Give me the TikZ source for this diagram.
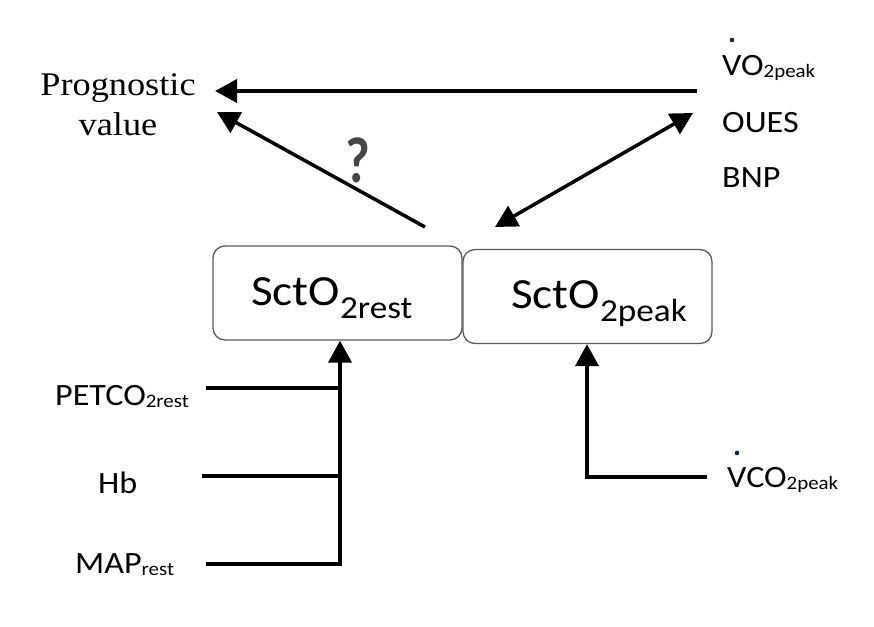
\documentclass[tikz,border=0pt]{standalone}
\usepackage{fontspec}
\setmainfont{Carlito}[FakeStretch=1.1]
\newfontfamily\tnr{Liberation Serif}[FakeStretch=1.1]
\usetikzlibrary{arrows.meta}
\definecolor{boxgray}{RGB}{90,90,90}
\definecolor{dotblue}{RGB}{20,35,70}
\definecolor{qgray}{RGB}{70,70,70}
\newcommand{\lsub}[1]{\raisebox{-2pt}{\fontsize{19}{19}\selectfont #1}}
\newcommand{\bsub}[1]{\raisebox{-13pt}{\fontsize{32}{32}\selectfont #1}}
\begin{document}
\begin{tikzpicture}[x=1pt,y=-1pt,
  box/.style={draw=boxgray, line width=1.3pt, rounded corners=12pt,
    minimum width=249pt, minimum height=94pt, inner sep=0pt},
  lbl/.style={anchor=base west, inner sep=0pt, font=\fontsize{31}{37}\selectfont},
  boxlbl/.style={anchor=base west, inner sep=0pt, font=\fontsize{43}{50}\selectfont},
  conn/.style={line width=4pt, line join=miter},
  thinconn/.style={line width=3.5pt},
  tip/.style={-{Triangle[length=22pt,width=23pt]}},
  dtip/.style={{Triangle[length=22pt,width=23pt]}-{Triangle[length=22pt,width=23pt]}}]
\useasboundingbox (0,0) rectangle (874,626);

% boxes
\node[box] (rest) at (337.5,293) {};
\node[box] (peak) at (587.5,296.5) {};
\node[boxlbl] (restlbl) at (251,305) {SctO\bsub{2rest}};
\node[boxlbl] (peaklbl) at (511,308) {SctO\bsub{2peak}};

% labels
\node[anchor=base, inner sep=0pt, align=center,
  font=\tnr\fontsize{33}{40}\selectfont] (prog) at (118,135) {Prognostic\\value};
\node[lbl] (vo) at (722,75) {VO\lsub{2peak}};
\fill[dotblue] (732,40) circle (2.3pt);
\node[lbl] (oues) at (722,132) {OUES};
\node[lbl] (bnp) at (722,187) {BNP};
\node[lbl] (petco) at (55,405) {PETCO\lsub{2rest}};
\node[lbl] (hb) at (98,493) {Hb};
\node[lbl] (map) at (75,573) {MAP\lsub{rest}};
\node[lbl] (vco) at (727,487) {VCO\lsub{2peak}};
\fill[dotblue] (737,453) circle (2.3pt);

% connector end points
\coordinate (voend) at (697,91);
\coordinate (progtop) at (215,91);
\coordinate (progbot) at (217,112);
\coordinate (resttop) at (425,227);
\coordinate (peaktop) at (495,227);
\coordinate (outtip) at (693,113);
\coordinate (petcoend) at (206,388);
\coordinate (petcojoin) at (340,388);
\coordinate (hbend) at (202,476);
\coordinate (hbjoin) at (340,476);
\coordinate (mapend) at (206,564);
\coordinate (mapjoin) at (340,564);
\coordinate (vcoend) at (707,477);
\coordinate (vcojoin) at (587,477);

% connectors
\draw[conn,tip] (voend) -- (progtop);
\draw[thinconn,tip] (resttop) -- (progbot);
\draw[thinconn,dtip] (peaktop) -- (outtip);
\node[inner sep=0pt, text=qgray, font=\bfseries\fontsize{54}{54}\selectfont] (qm) at (358,160)
  {\scalebox{0.9}[1.2]{?}};

\draw[conn] (petcoend) -- (petcojoin);
\draw[conn] (hbend) -- (hbjoin);
\draw[conn,tip] (mapend) -- (mapjoin) -- (mapjoin |- rest.south);
\draw[conn,tip] (vcoend) -- (vcojoin) -- (vcojoin |- peak.south);
\end{tikzpicture}
\end{document}
